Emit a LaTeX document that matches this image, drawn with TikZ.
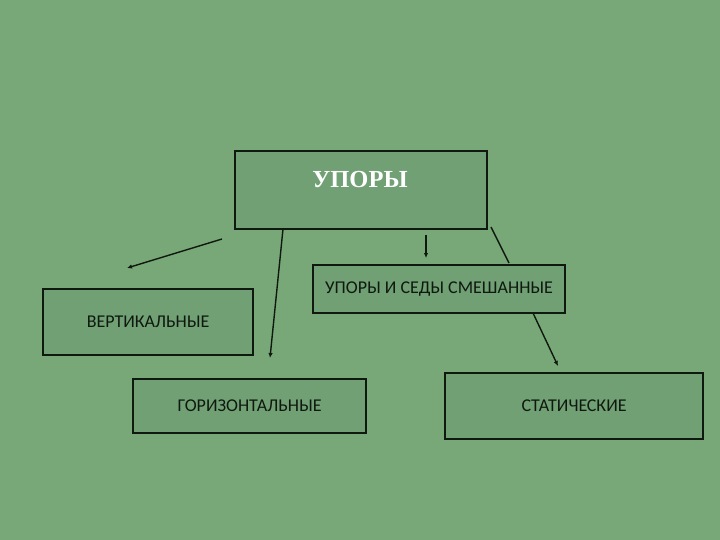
\documentclass[tikz,border=0pt]{standalone}
\usepackage{fontspec}
\setmainfont{Carlito}
\newfontfamily\serifb{Liberation Serif}
\usetikzlibrary{arrows.meta}
\definecolor{bg}{RGB}{120,168,120}
\definecolor{boxfill}{RGB}{112,160,116}
\definecolor{ink}{RGB}{15,25,15}
\tikzset{
  box/.style={draw=ink, line width=2.2pt, fill=boxfill, inner sep=0pt, anchor=north west},
  lbl/.style={font=\fontsize{18}{20}\selectfont, text=ink},
  conn/.style={draw=ink, line width=1.4pt, -{Latex[length=5pt,width=4.5pt]}},
  plain/.style={draw=ink, line width=1.4pt}
}
\begin{document}
\begin{tikzpicture}[x=1pt,y=-1pt]
\fill[bg] (0,0) rectangle (720,540);
\useasboundingbox (0,0) rectangle (720,540);
\node[box, minimum width=252pt, minimum height=78pt] (top) at (234,150) {};
\node[font=\serifb\bfseries\fontsize{24.5}{26}\selectfont, text=white] (toplbl) at (360,180) {УПОРЫ};
\node[box, minimum width=252pt, minimum height=48pt] (mix) at (312,264) {};
\node[lbl] at (mix.center) {УПОРЫ И СЕДЫ СМЕШАННЫЕ};
\node[box, minimum width=210pt, minimum height=66pt] (vert) at (42,288) {};
\node[lbl] at ([yshift=0pt]vert.center) {ВЕРТИКАЛЬНЫЕ};
\node[box, minimum width=233pt, minimum height=54pt] (hor) at (132,378) {};
\node[lbl] at (hor.center) {ГОРИЗОНТАЛЬНЫЕ};
\node[box, minimum width=258pt, minimum height=66pt] (stat) at (444,372) {};
\node[lbl] at (stat.center) {СТАТИЧЕСКИЕ};
\coordinate (a1) at (222,239);
\coordinate (a1e) at (127,268);
\coordinate (a2) at (283,229);
\coordinate (a2e) at (270,358);
\coordinate (a3) at (426,235);
\coordinate (a3e) at (426,258);
\coordinate (a4) at (491,227);
\coordinate (a4e) at (509,263);
\coordinate (a5) at (533,313);
\coordinate (a5e) at (558,366);
\draw[conn] (a1) -- (a1e);
\draw[conn] (a2) -- (a2e);
\draw[conn] (a3) -- (a3e);
\draw[plain] (a4) -- (a4e);
\draw[conn] (a5) -- (a5e);
\end{tikzpicture}
\end{document}
